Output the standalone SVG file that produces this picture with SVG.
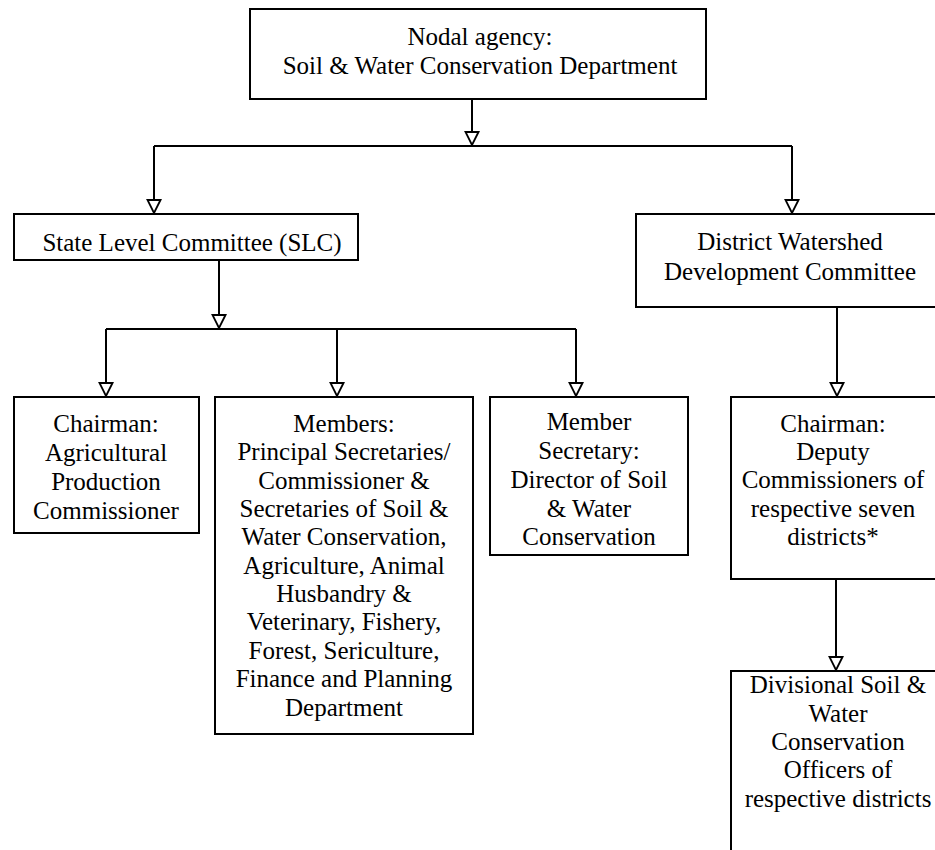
<svg xmlns="http://www.w3.org/2000/svg" width="935" height="850" viewBox="0 0 935 850">
  <style>
    .box { fill: #ffffff; stroke: #000000; stroke-width: 2; }
    .lbl { font-size: 25px; fill: #000000; text-anchor: middle; }
    .wire { fill: none; stroke: #000000; stroke-width: 2; }
  </style>
  <defs>
    <marker id="tri" viewBox="-1 -8 15 16" markerUnits="userSpaceOnUse" markerWidth="15" markerHeight="16" refX="13" refY="0" orient="auto">
      <path d="M0,-6.5 L13,0 L0,6.5 Z" fill="#ffffff" stroke="#000000" stroke-width="1.8" stroke-linejoin="miter"/>
    </marker>
  </defs>
  <rect width="935" height="850" fill="#ffffff"/>

  <g id="connectors">
    <path class="wire" d="M472,99 V145" marker-end="url(#tri)"/>
    <path class="wire" d="M154,146 H792"/>
    <path class="wire" d="M154,146 V213" marker-end="url(#tri)"/>
    <path class="wire" d="M792,146 V213" marker-end="url(#tri)"/>
    <path class="wire" d="M219,260 V328" marker-end="url(#tri)"/>
    <path class="wire" d="M106,329 H576"/>
    <path class="wire" d="M106,329 V396" marker-end="url(#tri)"/>
    <path class="wire" d="M337,329 V396" marker-end="url(#tri)"/>
    <path class="wire" d="M576,329 V396" marker-end="url(#tri)"/>
    <path class="wire" d="M837,307 V396" marker-end="url(#tri)"/>
    <path class="wire" d="M836,579 V670" marker-end="url(#tri)"/>
  </g>

  <g font-family="Liberation Serif, DejaVu Serif, serif">
    <g id="nodal-agency">
      <rect class="box" x="250" y="9" width="456" height="90"/>
      <text class="lbl" x="480" y="45">Nodal agency:</text>
      <text class="lbl" x="480" y="74">Soil &amp; Water Conservation Department</text>
    </g>

    <g id="slc">
      <rect class="box" x="14" y="214" width="344" height="46"/>
      <text class="lbl" x="192" y="251">State Level Committee (SLC)</text>
    </g>

    <g id="dwdc">
      <rect class="box" x="636" y="214" width="310" height="93"/>
      <text class="lbl" x="790" y="250">District Watershed</text>
      <text class="lbl" x="790" y="280">Development Committee</text>
    </g>

    <g id="slc-chairman">
      <rect class="box" x="14" y="397" width="185" height="136"/>
      <text class="lbl" x="106" y="432">Chairman:</text>
      <text class="lbl" x="106" y="461">Agricultural</text>
      <text class="lbl" x="106" y="490">Production</text>
      <text class="lbl" x="106" y="519">Commissioner</text>
    </g>

    <g id="slc-members">
      <rect class="box" x="215" y="397" width="258" height="337"/>
      <text class="lbl" x="344" y="432">Members:</text>
      <text class="lbl" x="344" y="460">Principal Secretaries/</text>
      <text class="lbl" x="344" y="489">Commissioner &amp;</text>
      <text class="lbl" x="344" y="517">Secretaries of Soil &amp;</text>
      <text class="lbl" x="344" y="545">Water Conservation,</text>
      <text class="lbl" x="344" y="574">Agriculture, Animal</text>
      <text class="lbl" x="344" y="602">Husbandry &amp;</text>
      <text class="lbl" x="344" y="630">Veterinary, Fishery,</text>
      <text class="lbl" x="344" y="659">Forest, Sericulture,</text>
      <text class="lbl" x="344" y="687">Finance and Planning</text>
      <text class="lbl" x="344" y="716">Department</text>
    </g>

    <g id="slc-member-secretary">
      <rect class="box" x="490" y="397" width="198" height="158"/>
      <text class="lbl" x="589" y="430">Member</text>
      <text class="lbl" x="589" y="459">Secretary:</text>
      <text class="lbl" x="589" y="488">Director of Soil</text>
      <text class="lbl" x="589" y="517">&amp; Water</text>
      <text class="lbl" x="589" y="545">Conservation</text>
    </g>

    <g id="dwdc-chairman">
      <rect class="box" x="731" y="397" width="215" height="182"/>
      <text class="lbl" x="833" y="432">Chairman:</text>
      <text class="lbl" x="833" y="460">Deputy</text>
      <text class="lbl" x="833" y="488">Commissioners of</text>
      <text class="lbl" x="833" y="517">respective seven</text>
      <text class="lbl" x="833" y="545">districts*</text>
    </g>

    <g id="divisional-officers">
      <rect class="box" x="731" y="671" width="215" height="200"/>
      <text class="lbl" x="838" y="693">Divisional Soil &amp;</text>
      <text class="lbl" x="838" y="722">Water</text>
      <text class="lbl" x="838" y="750">Conservation</text>
      <text class="lbl" x="838" y="778">Officers of</text>
      <text class="lbl" x="838" y="807">respective districts</text>
    </g>
  </g>
</svg>
